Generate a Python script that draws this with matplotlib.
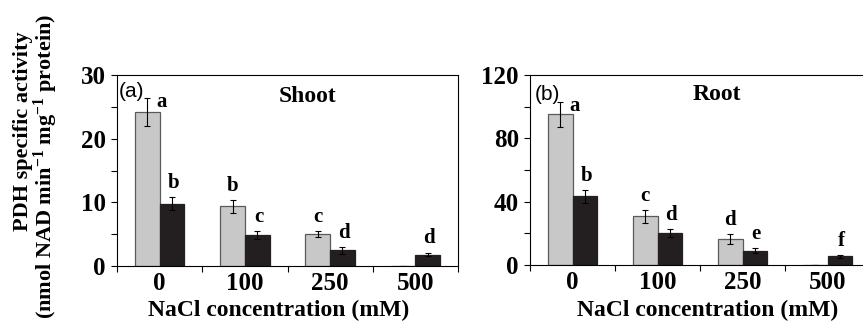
import numpy as np
import matplotlib
matplotlib.use("Agg")
import matplotlib.pyplot as plt

plt.rcParams['font.family'] = ['Liberation Serif', 'DejaVu Serif']
plt.rcParams['mathtext.fontset'] = 'custom'
plt.rcParams['mathtext.rm'] = 'Liberation Serif:bold'
plt.rcParams['mathtext.it'] = 'Liberation Serif:bold'
plt.rcParams['mathtext.bf'] = 'Liberation Serif:bold'
plt.rcParams['mathtext.default'] = 'rm'

conc = ['0', '100', '250', '500']

# shoot: grey / black bars
shoot_grey = [24.2, 9.4, 5.0, 0]
shoot_grey_err = [2.2, 1.0, 0.5, 0]
shoot_black = [9.8, 4.9, 2.45, 1.8]
shoot_black_err = [1.0, 0.6, 0.5, 0.3]
shoot_grey_let = ['a', 'b', 'c', '']
shoot_black_let = ['b', 'c', 'd', 'd']

# root
root_grey = [95.1, 30.8, 16.5, 0]
root_grey_err = [8.0, 4.0, 3.0, 0]
root_black = [43.3, 20.3, 9.1, 5.5]
root_black_err = [4.0, 2.5, 1.5, 1.0]
root_grey_let = ['a', 'c', 'd', '']
root_black_let = ['b', 'd', 'e', 'f']

W, H = 863, 330
fig = plt.figure(figsize=(W / 100, H / 100), dpi=100)

def panel(rect, grey, grey_err, black, black_err, glet, blet, ymax, major, minor, tag, title, tagpos, titlepos):
    ax = fig.add_axes(rect)
    x = np.arange(len(conc))
    w = 0.29
    ax.bar(x - w / 2, grey, w, yerr=grey_err, color='#c8c8c8', edgecolor='#5a5a5a',
           linewidth=0.9, error_kw=dict(ecolor='black', elinewidth=0.8, capsize=2.5, capthick=0.8))
    ax.bar(x + w / 2, black, w, yerr=black_err, color='#231f20', edgecolor='#231f20',
           linewidth=0.9, error_kw=dict(ecolor='black', elinewidth=0.8, capsize=2.5, capthick=0.8))
    for i in range(len(conc)):
        if glet[i]:
            top = grey[i] + grey_err[i]
            if i == 0:
                ax.annotate(glet[i], (x[i] - w / 2, top), xytext=(10, -3), textcoords='offset points',
                            ha='center', va='center', fontsize=15, fontweight='bold')
            else:
                ax.annotate(glet[i], (x[i] - w / 2, top), xytext=(0, 3), textcoords='offset points',
                            ha='center', va='bottom', fontsize=15, fontweight='bold')
        top = black[i] + black_err[i]
        ax.annotate(blet[i], (x[i] + w / 2, top), xytext=(1, 3), textcoords='offset points',
                    ha='center', va='bottom', fontsize=15, fontweight='bold')
    ax.set_xlim(-0.5, 3.5)
    ax.set_ylim(0, ymax)
    ax.set_yticks(np.arange(0, ymax + 1, major))
    ax.set_yticks(np.arange(0, ymax + 1, minor), minor=True)
    ax.set_xticks(np.arange(-0.5, 4, 1))
    ax.set_xticklabels([])
    ax.set_xticks(x, minor=True)
    ax.set_xticklabels(conc, minor=True)
    ax.tick_params(axis='x', which='major', direction='out', length=4, width=0.8)
    ax.tick_params(axis='x', which='minor', length=0, pad=4, labelsize=18)
    ax.tick_params(axis='y', which='both', direction='out', length=4, width=0.8, labelsize=18, pad=4)
    for lab in ax.get_xticklabels(minor=True) + ax.get_yticklabels():
        lab.set_fontweight('bold')
    for s in ax.spines.values():
        s.set_linewidth(0.8)
    ax.text(tagpos[0], tagpos[1], tag, transform=ax.transAxes, family='Liberation Sans',
            fontsize=15, ha='left', va='center')
    ax.text(titlepos[0], titlepos[1], title, transform=ax.transAxes, fontsize=17,
            fontweight='bold', ha='center', va='center')
    return ax

ax1 = panel([117 / W, 1 - 266 / H, 341 / W, 191 / H], shoot_grey, shoot_grey_err, shoot_black,
            shoot_black_err, shoot_grey_let, shoot_black_let, 30, 10, 5, '(a)', 'Shoot',
            (0.005, 0.915), (0.56, 0.89))
ax2 = panel([530 / W, 1 - 265 / H, 340 / W, 190 / H], root_grey, root_grey_err, root_black,
            root_black_err, root_grey_let, root_black_let, 120, 40, 20, '(b)', 'Root',
            (0.015, 0.9), (0.55, 0.895))

fig.text(279 / W, 1 - 310 / H, 'NaCl concentration (mM)', ha='center', va='center',
         fontsize=17, fontweight='bold')
fig.text(708 / W, 1 - 310 / H, 'NaCl concentration (mM)', ha='center', va='center',
         fontsize=17, fontweight='bold')
fig.text(23 / W, 1 - 131 / H, 'PDH specific activity', rotation=90, ha='center', va='center',
         fontsize=16, fontweight='bold')
fig.text(46 / W, 1 - 166 / H, r'(nmol NAD min$^{-1}$ mg$^{-1}$ protein)', rotation=90,
         ha='center', va='center', fontsize=16, fontweight='bold')

fig.savefig('out.png', dpi=100)
